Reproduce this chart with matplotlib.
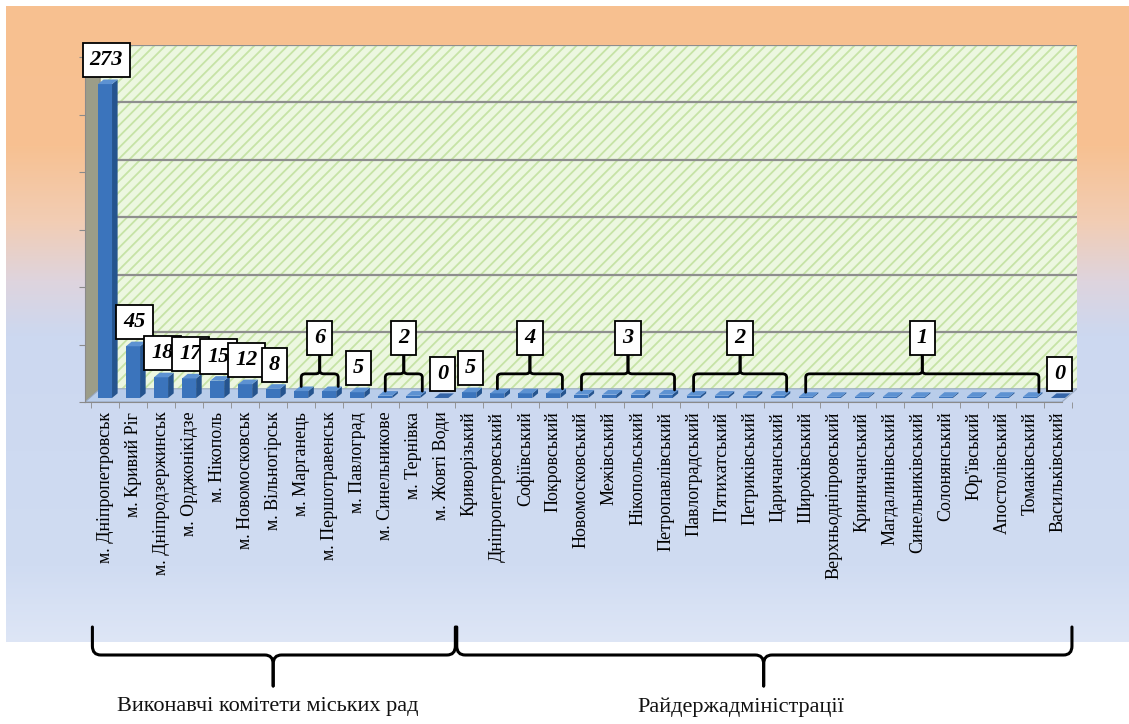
import numpy as np
import matplotlib.pyplot as plt
from matplotlib.patches import Polygon, Rectangle, PathPatch
from matplotlib.path import Path
from matplotlib.transforms import blended_transform_factory

plt.rcParams['font.family'] = ['Liberation Serif', 'DejaVu Serif']
plt.rcParams['hatch.linewidth'] = 1.3

cities = ['м. Дніпропетровськ', 'м. Кривий Ріг', 'м. Дніпродзержинськ', 'м. Орджонікідзе',
          'м. Нікополь', 'м. Новомосковськ', 'м. Вільногірськ', 'м. Марганець',
          'м. Першотравенськ', 'м. Павлоград', 'м. Синельникове', 'м. Тернівка', 'м. Жовті Води']
city_values = [273, 45, 18, 17, 15, 12, 8, 6, 6, 5, 2, 2, 0]

districts = ['Криворізький', 'Дніпропетровський', 'Софіївський', 'Покровський',
             'Новомосковський', 'Межівський', 'Нікопольський', 'Петропавлівський',
             'Павлоградський', 'П\'ятихатський', 'Петриківський', 'Царичанський',
             'Широківський', 'Верхньодніпровський', 'Криничанський', 'Магдалинівський',
             'Синельниківський', 'Солонянський', 'Юр\'ївський', 'Апостолівський',
             'Томаківський', 'Васильківський']
district_values = [5, 4, 4, 4, 3, 3, 3, 3, 2, 2, 2, 2, 1, 1, 1, 1, 1, 1, 1, 1, 1, 0]

section_titles = ['Виконавчі комітети міських рад', 'Райдержадміністрації']

labels = cities + districts
values = city_values + district_values
x = np.arange(len(labels))

FRONT, SIDE, TOP = '#3b74bc', '#25548e', '#5d92d2'
W, H = 1129, 724

fig = plt.figure(figsize=(W / 100, H / 100), dpi=100)

# background gradient (orange -> white -> light blue)
bg = fig.add_axes([6 / W, 1 - 642 / H, 1 - 6 / W, (642 - 6) / H], zorder=-2)
stops_y = [0, 140, 215, 275, 330, 560, 636]
stops_c = np.array([[247, 192, 144], [247, 193, 146], [242, 205, 180], [222, 212, 222],
                    [204, 216, 240], [208, 220, 242], [222, 230, 246]]) / 255
yy = np.arange(636)
grad = np.stack([np.interp(yy, stops_y, stops_c[:, k]) for k in range(3)], axis=1)
bg.imshow(grad[:, None, :], aspect='auto', extent=(0, 1, 0, 1))
bg.axis('off')

ax = fig.add_axes([85 / W, 1 - 402 / H, (1077 - 85) / W, (402 - 45) / H], zorder=1)
ax.set_xlim(-0.714, 34.68)
ax.set_ylim(-3.5, 307)
ax.patch.set_alpha(0)

DX, WALL_Y = 0.54, 8.0
x_left, x_right = -0.714, 34.68
floor_y = -3.5
top_y = 307

# back wall with hatch
ax.add_patch(Rectangle((x_left + DX, WALL_Y), x_right - x_left - DX, top_y - WALL_Y,
                       facecolor='#ecf7e0', edgecolor='#c6e3a6', hatch='///', lw=0, zorder=0))
for g in range(50, 301, 50):
    ax.plot([x_left + DX, x_right], [g + WALL_Y - 1, g + WALL_Y - 1], color='#8e8e8e', lw=1.6, zorder=1)
# left wall
ax.add_patch(Polygon([(x_left, floor_y), (x_left + DX, WALL_Y), (x_left + DX, top_y),
                      (x_left, top_y - (WALL_Y - floor_y))], facecolor='#9c9d88', edgecolor='#8a8a7a', lw=0.8, zorder=2))
# floor
ax.add_patch(Polygon([(x_left, floor_y), (x_right - DX, floor_y), (x_right, WALL_Y), (x_left + DX, WALL_Y)],
                     facecolor='#b9cdea', edgecolor='#9aa9c0', lw=0.8, zorder=2))

# bars with fake depth
BW, BDX, BDY = 0.5, 0.2, 4.0
ax.bar(x, values, width=BW, color=FRONT, zorder=4)
for xi, v in zip(x, values):
    l, r = xi - BW / 2, xi + BW / 2
    ax.add_patch(Polygon([(r, 0), (r + BDX, BDY), (r + BDX, v + BDY), (r, v)], fc=SIDE, ec='none', zorder=4))
    ax.add_patch(Polygon([(l, v), (r, v), (r + BDX, v + BDY), (l + BDX, v + BDY)],
                         fc=TOP if v > 0 else '#3565a8', ec='none', zorder=4))


def bracket(axis, x0, x1, xm, y_end, y_mid, y_tip, tr, rx, ry, lw=2.0):
    s = 1 if y_tip > y_end else -1
    for xe in (x0, x1):
        d = 1 if xm > xe else -1
        verts = [(xe, y_end), (xe, y_mid - s * ry), (xe, y_mid), (xe + d * rx, y_mid),
                 (xm - d * rx, y_mid), (xm, y_mid), (xm, y_mid + s * ry), (xm, y_tip)]
        codes = [Path.MOVETO, Path.LINETO, Path.CURVE3, Path.CURVE3,
                 Path.LINETO, Path.CURVE3, Path.CURVE3, Path.LINETO]
        axis.add_patch(PathPatch(Path(verts, codes), fc='none', ec='black', lw=lw,
                                 transform=tr, zorder=5, clip_on=False, capstyle='round'))


label_kw = dict(ha='center', va='center', fontsize=16, fontweight='bold', style='italic',
                zorder=6, bbox=dict(boxstyle='square,pad=0.32', fc='white', ec='black', lw=1.3))

# value labels: one per run of equal neighbouring values
runs, start = [], 0
for i in range(1, len(values) + 1):
    if i == len(values) or values[i] != values[start]:
        runs.append((start, i - 1))
        start = i
for a, b in runs:
    v = values[a]
    if a == b:
        ax.text(x[a] + 0.05, v + 21, str(v), **label_kw)
    else:
        x0, x1 = x[a], x[b] + 0.32
        xm = (x0 + x1) / 2
        bracket(ax, x0, x1, xm, v + BDY, 21, 40, ax.transData, 0.15, 3)
        ax.text(xm, 52, str(v), **label_kw)

# axes decoration
for s in ['top', 'right']:
    ax.spines[s].set_visible(False)
ax.spines['bottom'].set_bounds(x_left, x_right - DX)
ax.spines['bottom'].set_color('#8a8a8a')
ax.spines['left'].set_bounds(floor_y, top_y - (WALL_Y - floor_y))
ax.spines['left'].set_color('#8a8a8a')
ax.set_yticks(np.arange(0, 301, 50) + floor_y)
ax.set_yticklabels([])
ax.tick_params(axis='y', length=4, color='#8a8a8a')
ax.set_xticks(x)
ax.set_xticklabels(labels, rotation=90, fontsize=13, color='black')
ax.set_xticks(np.arange(-0.5, len(labels)), minor=True)
ax.tick_params(axis='x', which='major', length=0, pad=7)
ax.tick_params(axis='x', which='minor', length=4, color='#8a8a8a')

# section braces below the labels
ov = fig.add_axes([0, 0, 1, 1], zorder=2)
ov.set_xlim(0, W)
ov.set_ylim(H, 0)
ov.axis('off')
tr = blended_transform_factory(ax.transData, ov.transData)
sections = [(0, len(cities) - 1), (len(cities), len(labels) - 1)]
title_shift = [-0.2, -0.8]
for (a, b), title, sh in zip(sections, section_titles, title_shift):
    xm = (a + b) / 2
    bracket(ov, a - 0.45, b + 0.5, xm, 627, 655, 686, tr, 0.3, 9, lw=2.2)
    ov.text(xm + sh, 707, title, transform=tr, ha='center', va='center', fontsize=16, color='#111111')

fig.savefig('out.png', dpi=100)
